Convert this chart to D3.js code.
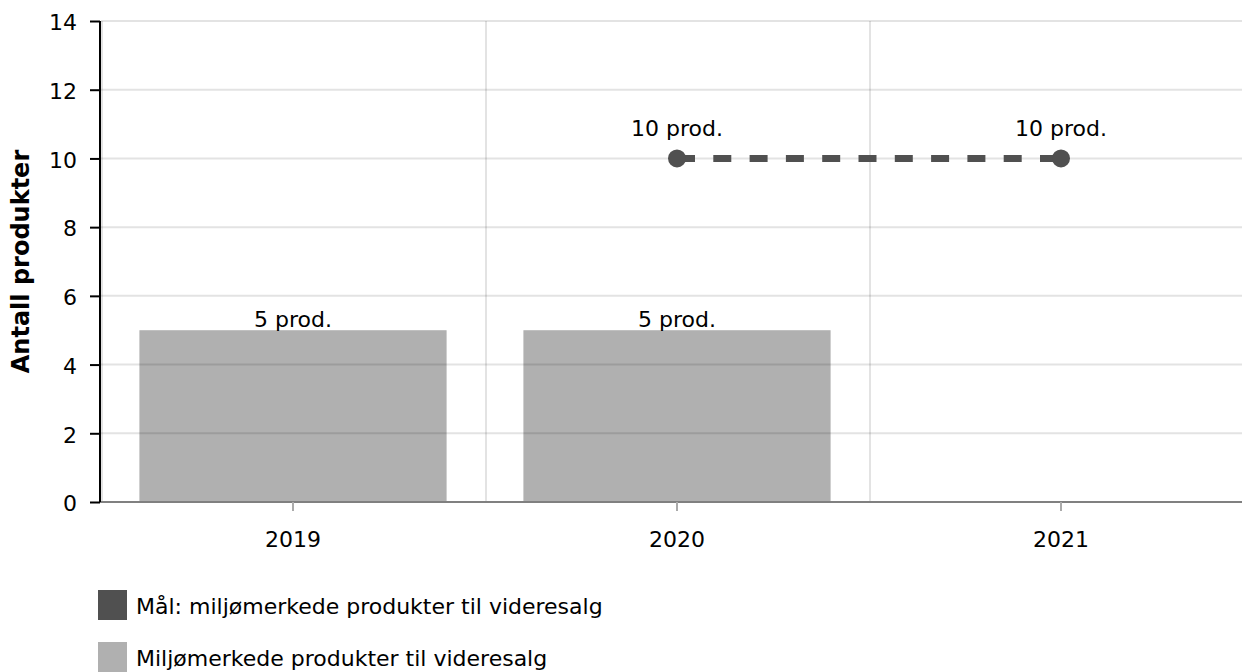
<!DOCTYPE html>
<html>
<head>
<meta charset="utf-8">
<script src="https://cdn.jsdelivr.net/npm/d3@7"></script>
<style>
  html, body { margin: 0; padding: 0; background: #fff; }
  svg { display: block; font-family: "DejaVu Sans", Verdana, sans-serif; }
</style>
</head>
<body>
<svg id="chart" width="1242" height="672"></svg>
<script>
const categories = ["2019", "2020", "2021"];
const barValues = [5, 5, null];
const targetValues = [null, 10, 10];
const yTicks = [0, 2, 4, 6, 8, 10, 12, 14];
const barLabelSuffix = " prod.";
const seriesNames = ["Mål: miljømerkede produkter til videresalg", "Miljømerkede produkter til videresalg"];
const seriesColors = ["#505050", "#b0b0b0"];
const yTitle = "Antall produkter";

(function () {
const W = 1242;
const FS = 22;
const mLeft = 101, mTop = 21, mBottom = 502;
const svg = d3.select("#chart");

const x = d3.scaleBand().domain(categories).range([mLeft, mLeft + 384 * 3]).padding(0);
const y = d3.scaleLinear().domain([0, 14]).range([mBottom, mTop]);

const barW = x.bandwidth() * 0.8;

// bars
svg.append("g").selectAll("rect")
  .data(categories.map((c, i) => ({c, v: barValues[i]})).filter(d => d.v != null))
  .join("rect")
  .attr("x", d => x(d.c) + (x.bandwidth() - barW) / 2)
  .attr("width", barW)
  .attr("y", d => y(d.v))
  .attr("height", d => y(0) - y(d.v))
  .attr("fill", seriesColors[1]);

// grid (over bars, translucent)
const grid = svg.append("g");
grid.selectAll("line.h").data(yTicks).join("line")
  .attr("x1", mLeft).attr("x2", W)
  .attr("y1", d => y(d)).attr("y2", d => y(d))
  .attr("stroke", "rgba(0,0,0,0.11)").attr("stroke-width", 2);
const vb = categories.map(c => x(c)).concat([x(categories[categories.length - 1]) + x.bandwidth()]);
grid.selectAll("line.v").data(vb).join("line")
  .attr("x1", d => d + 1).attr("x2", d => d + 1)
  .attr("y1", mTop).attr("y2", mBottom)
  .attr("stroke", "rgba(0,0,0,0.11)").attr("stroke-width", 2);

// x axis
svg.append("line").attr("x1", mLeft - 1).attr("x2", W).attr("y1", mBottom).attr("y2", mBottom)
  .attr("stroke", "#808080").attr("stroke-width", 2);
svg.append("g").selectAll("line").data(categories).join("line")
  .attr("x1", d => x(d) + x.bandwidth() / 2).attr("x2", d => x(d) + x.bandwidth() / 2)
  .attr("y1", mBottom).attr("y2", mBottom + 9)
  .attr("stroke", "#aaaaaa").attr("stroke-width", 2);
svg.append("g").selectAll("text").data(categories).join("text")
  .attr("x", d => x(d) + x.bandwidth() / 2).attr("y", 547)
  .attr("text-anchor", "middle").attr("font-size", FS).attr("fill", "#000")
  .text(d => d);

// y axis
const yAxis = svg.append("g").attr("transform", `translate(${mLeft - 1},0)`)
  .call(d3.axisLeft(y).tickValues(yTicks).tickSize(10).tickPadding(13).tickFormat(d3.format("d")));
yAxis.select(".domain").attr("stroke", "#000").attr("stroke-width", 2).attr("d", `M0,${mTop}V${mBottom}`);
yAxis.selectAll(".tick line").attr("stroke", "#000").attr("stroke-width", 2);
yAxis.selectAll(".tick text").attr("font-size", FS).attr("fill", "#000")
  .attr("font-family", "DejaVu Sans, Verdana, sans-serif").attr("dy", "0.4em");

// y title
svg.append("text")
  .attr("transform", `translate(29,${(mTop + mBottom) / 2}) rotate(-90)`)
  .attr("text-anchor", "middle").attr("font-size", 24).attr("font-weight", "bold")
  .text(yTitle);

// bar labels
svg.append("g").selectAll("text")
  .data(categories.map((c, i) => ({c, v: barValues[i]})).filter(d => d.v != null))
  .join("text")
  .attr("x", d => x(d.c) + x.bandwidth() / 2).attr("y", d => y(d.v) - 3)
  .attr("text-anchor", "middle").attr("font-size", FS)
  .text(d => d.v + barLabelSuffix);

// target line
const pts = categories.map((c, i) => ({c, v: targetValues[i]})).filter(d => d.v != null);
const line = d3.line().x(d => x(d.c) + x.bandwidth() / 2).y(d => y(d.v));
svg.append("path").datum(pts).attr("d", line)
  .attr("fill", "none").attr("stroke", seriesColors[0]).attr("stroke-width", 7)
  .attr("stroke-dasharray", "18,18.3");
svg.append("g").selectAll("circle").data(pts).join("circle")
  .attr("cx", d => x(d.c) + x.bandwidth() / 2).attr("cy", d => y(d.v)).attr("r", 9)
  .attr("fill", seriesColors[0]);
svg.append("g").selectAll("text").data(pts).join("text")
  .attr("x", d => x(d.c) + x.bandwidth() / 2).attr("y", d => y(d.v) - 22)
  .attr("text-anchor", "middle").attr("font-size", FS)
  .text(d => d.v + barLabelSuffix);

// legend
const leg = svg.append("g");
seriesNames.forEach((n, i) => {
  leg.append("rect").attr("x", 98).attr("y", 590 + i * 52).attr("width", 29).attr("height", 30)
    .attr("fill", seriesColors[i]);
  leg.append("text").attr("x", 136).attr("y", 614 + i * 52).attr("font-size", FS).text(n);
});
})();
</script>
</body>
</html>
